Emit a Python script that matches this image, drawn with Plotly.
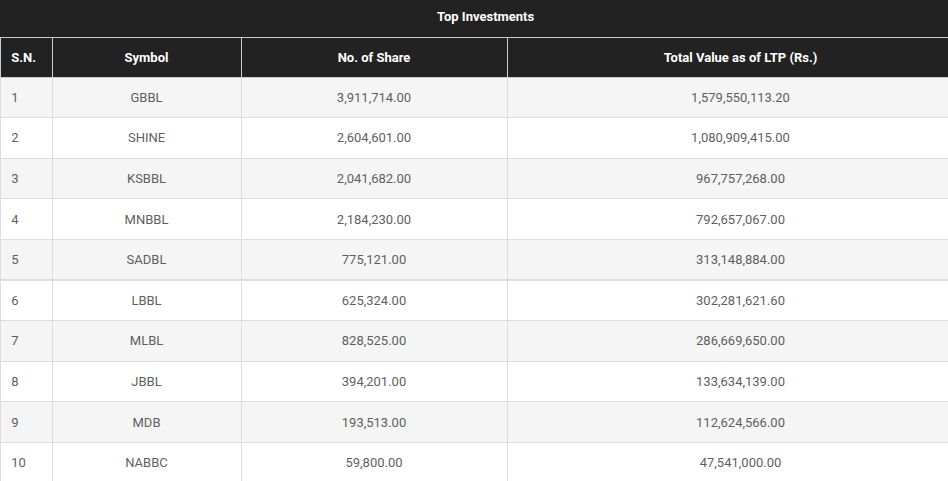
import plotly.graph_objects as go

# table data
sn = [str(i) for i in range(1, 11)]
symbols = ["GBBL", "SHINE", "KSBBL", "MNBBL", "SADBL", "LBBL", "MLBL", "JBBL", "MDB", "NABBC"]
shares = ["3,911,714.00", "2,604,601.00", "2,041,682.00", "2,184,230.00", "775,121.00",
          "625,324.00", "828,525.00", "394,201.00", "193,513.00", "59,800.00"]
total_value = ["1,579,550,113.20", "1,080,909,415.00", "967,757,268.00", "792,657,067.00",
               "313,148,884.00", "302,281,621.60", "286,669,650.00", "133,634,139.00",
               "112,624,566.00", "47,541,000.00"]
headers = ["<b>S.N.</b>", "<b>Symbol</b>", "<b>No. of Share</b>", "<b>Total Value as of LTP (Rs.)</b>"]
title = "Top Investments"

# the original table runs a little past the right edge of the window
W, H = 974, 481
title_h = 37
shift = 5          # push text down so it sits mid-row
FH = H + shift     # figure is a bit taller, extra is hidden below the window

row_fill = ["#f5f5f5" if i % 2 == 0 else "#ffffff" for i in range(len(sn))]
colw = [52, 189, 266, 467]
aligns = ["left", "center", "center", "center"]
cols = [sn, symbols, shares, total_value]

top = 1 - title_h / FH
fig = go.Figure()

# grid + fills (no text)
fig.add_trace(go.Table(
    domain=dict(x=[0, 1], y=[shift / FH, top]),
    columnwidth=colw,
    header=dict(values=[""] * 4, fill_color="#222222",
                line=dict(color="#cccccc", width=1), height=40),
    cells=dict(values=[[""] * len(sn)] * 4, fill_color=[row_fill] * 4,
               line=dict(color="#dddddd", width=1), height=40.6),
))

# text layer, sits a few px lower
fig.add_trace(go.Table(
    domain=dict(x=[0, 1], y=[0, top - shift / FH]),
    columnwidth=colw,
    header=dict(
        values=headers,
        prefix=["\u00a0", "", "", ""],
        fill_color="rgba(0,0,0,0)",
        line=dict(color="rgba(0,0,0,0)", width=0),
        font=dict(family="Roboto", size=13, color="white"),
        align=aligns,
        height=42,
    ),
    cells=dict(
        values=cols,
        prefix=["\u00a0", "", "", ""],
        fill_color="rgba(0,0,0,0)",
        line=dict(color="rgba(0,0,0,0)", width=0),
        font=dict(family="Roboto", size=13, color="#5f5f5f"),
        align=aligns,
        height=40.6,
    ),
))

fig.add_shape(type="rect", xref="paper", yref="paper", x0=0, x1=1, y0=top, y1=1,
              fillcolor="#222222", line=dict(width=0), layer="below")
fig.add_annotation(text="<b>" + title + "</b>", xref="paper", yref="paper", x=0.5, xshift=-2,
                   y=1 - (title_h / 2 - 2) / FH, yanchor="middle", showarrow=False,
                   font=dict(family="Roboto", size=13, color="white"))

fig.update_layout(width=W, height=FH, margin=dict(l=0, r=0, t=0, b=0),
                  paper_bgcolor="white")

fig.write_html("out.html", config={"displayModeBar": False},
               post_script="document.body.style.margin='0';document.body.style.overflow='hidden';")
